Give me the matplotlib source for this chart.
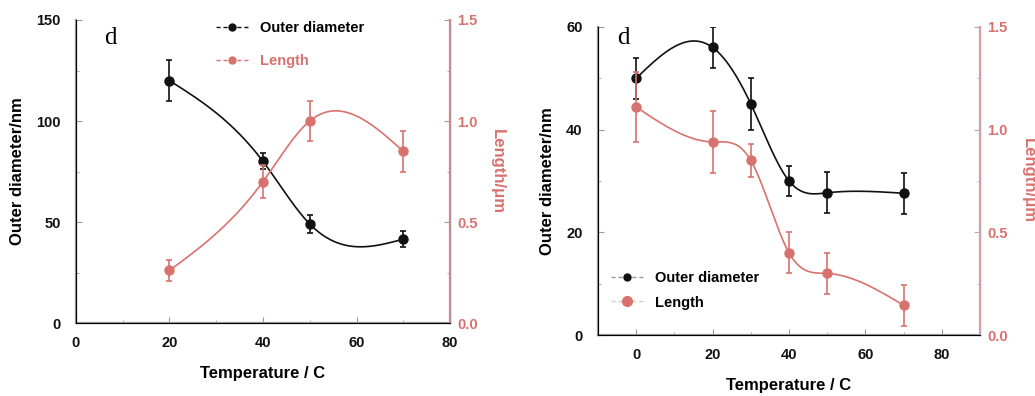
import numpy as np
import matplotlib
matplotlib.use("Agg")
import matplotlib.pyplot as plt
from matplotlib.lines import Line2D

# ── data ─────────────────────────────────────────────────────────────────────
temp_a = [20, 40, 50, 70]
diam_a = [120, 80, 49, 41.5]
diam_a_err = [10, 4, 4.5, 4]
len_a = [0.26, 0.70, 1.00, 0.85]
len_a_err = [0.05, 0.08, 0.10, 0.10]

temp_b = [0, 20, 30, 40, 50, 70]
diam_b = [50, 56, 45, 30, 27.7, 27.6]
diam_b_err = [4, 4, 5, 3, 4, 4]
len_b = [1.11, 0.94, 0.85, 0.40, 0.30, 0.145]
len_b_err = [0.17, 0.15, 0.08, 0.10, 0.10, 0.10]

BLACK = "#111111"
SALMON = "#d8726e"
PINKAX = "#c48a94"
GREYAX = "#9a9a9a"

plt.rcParams.update({"font.family": ["Liberation Sans", "DejaVu Sans"],
                     "font.weight": "bold"})


def spline(x, y, n=200):
    """natural cubic spline, used only to draw the smooth connector"""
    x = np.asarray(x, float); y = np.asarray(y, float)
    k = len(x); h = np.diff(x)
    A = np.zeros((k, k)); r = np.zeros(k)
    A[0, 0] = A[-1, -1] = 1
    for i in range(1, k - 1):
        A[i, i - 1] = h[i - 1]; A[i, i] = 2 * (h[i - 1] + h[i]); A[i, i + 1] = h[i]
        r[i] = 6 * ((y[i + 1] - y[i]) / h[i] - (y[i] - y[i - 1]) / h[i - 1])
    m = np.linalg.solve(A, r)
    xs = np.linspace(x[0], x[-1], n)
    j = np.clip(np.searchsorted(x, xs) - 1, 0, k - 2)
    t0 = x[j + 1] - xs; t1 = xs - x[j]; hj = h[j]
    ys = (m[j] * t0**3 + m[j + 1] * t1**3) / (6 * hj) \
        + (y[j] / hj - m[j] * hj / 6) * t0 + (y[j + 1] / hj - m[j + 1] * hj / 6) * t1
    return xs, ys


def panel(rect, tx, dia, dia_e, ln, ln_e, ylim, yticks, xlim, xticks, rcol, dpos):
    ax = fig.add_axes(rect)
    ax2 = ax.twinx()
    xs, ys = spline(tx, dia)
    ax.plot(xs, ys, color=BLACK, lw=1.2, zorder=3)
    ax.errorbar(tx, dia, yerr=dia_e, fmt="o", color=BLACK, ms=6.5, capsize=2,
                elinewidth=1.2, capthick=1.2, zorder=4)
    xs, ys = spline(tx, ln)
    ax2.plot(xs, ys, color=SALMON, lw=1.2, zorder=3)
    ax2.errorbar(tx, ln, yerr=ln_e, fmt="o", color=SALMON, ms=6.5, capsize=2,
                 elinewidth=1.2, capthick=1.2, zorder=4)
    ax.set_xlim(*xlim); ax.set_xticks(xticks)
    ax.set_xticks(np.arange(xticks[0] + 10, xticks[-1], 20), minor=True)
    ax.set_ylim(*ylim); ax.set_yticks(yticks)
    ax.set_yticks([(a + b) / 2 for a, b in zip(yticks[:-1], yticks[1:])], minor=True)
    ax2.set_ylim(0, 1.5); ax2.set_yticks([0.0, 0.5, 1.0, 1.5])
    ax2.set_yticks([0.25, 0.75, 1.25], minor=True)
    ax2.yaxis.set_major_formatter(matplotlib.ticker.FormatStrFormatter("%.1f"))
    ax.spines["top"].set_visible(False); ax2.spines["top"].set_visible(False)
    for s in ["left", "bottom"]:
        ax.spines[s].set_color(GREYAX); ax.spines[s].set_linewidth(1.6)
    ax2.spines["right"].set_color(rcol); ax2.spines["right"].set_linewidth(1.6)
    ax.tick_params(which="both", direction="in", color=GREYAX, labelsize=10.5,
                   labelcolor=BLACK)
    ax.tick_params(which="major", length=4)
    ax.tick_params(which="minor", length=2)
    ax.tick_params(axis="y", pad=11)
    ax.tick_params(axis="x", pad=9)
    ax2.tick_params(which="both", direction="in", color=rcol, labelsize=10.5,
                    labelcolor=SALMON)
    ax2.tick_params(which="major", length=4, pad=5)
    ax2.tick_params(which="minor", length=2)
    ax.set_xlabel("Temperature / C", fontsize=12, fontweight="bold", labelpad=12)
    ax.set_ylabel("Outer diameter/nm", fontsize=12, fontweight="bold", labelpad=8)
    ax2.set_ylabel("Length/μm", fontsize=12, fontweight="bold", color=SALMON,
                   rotation=270, labelpad=20)
    ax.text(dpos[0], dpos[1], "d", transform=ax.transAxes, fontsize=18,
            family=["Liberation Serif", "DejaVu Serif"], fontweight="normal",
            ha="left", va="center")
    return ax, ax2


fig = plt.figure(figsize=(10.35, 3.96), dpi=100)

ax, ax2 = panel([0.0734, 0.1843, 0.3614, 0.7652], temp_a, diam_a, diam_a_err,
                len_a, len_a_err, (0, 150), [0, 50, 100, 150], (0, 80),
                [0, 20, 40, 60, 80], PINKAX, (0.075, 0.94))
h1 = Line2D([], [], color=BLACK, ls="--", dashes=(3, 2), lw=1, marker="o", ms=5,
            markeredgecolor=BLACK)
h2 = Line2D([], [], color=SALMON, ls="--", dashes=(3, 2), lw=1, marker="o", ms=5)
leg = ax.legend([h1, h2], ["Outer diameter", "Length"], loc="upper left",
                bbox_to_anchor=(0.34, 1.04), frameon=False, fontsize=10.5,
                handlelength=2.2, labelspacing=1.3)
leg.get_texts()[1].set_color(SALMON)

bx, bx2 = panel([0.5778, 0.154, 0.3691, 0.778], temp_b, diam_b, diam_b_err,
                len_b, len_b_err, (0, 60), [0, 20, 40, 60], (-10, 90),
                [0, 20, 40, 60, 80], "#c9a2aa", (0.05, 0.965))
g1 = Line2D([], [], color="#999999", ls="--", dashes=(3, 2), lw=1, marker="o",
            ms=5, markerfacecolor=BLACK, markeredgecolor=BLACK)
g2 = Line2D([], [], color="#cccccc", ls="--", dashes=(3, 2), lw=1, marker="o",
            ms=7, markerfacecolor=SALMON, markeredgecolor=SALMON)
bx.legend([g1, g2], ["Outer diameter", "Length"], loc="lower left",
          bbox_to_anchor=(0.0, 0.04), frameon=False, fontsize=10.5,
          handlelength=2.2, labelspacing=0.75)

fig.savefig("out.png", dpi=100, facecolor="white")
